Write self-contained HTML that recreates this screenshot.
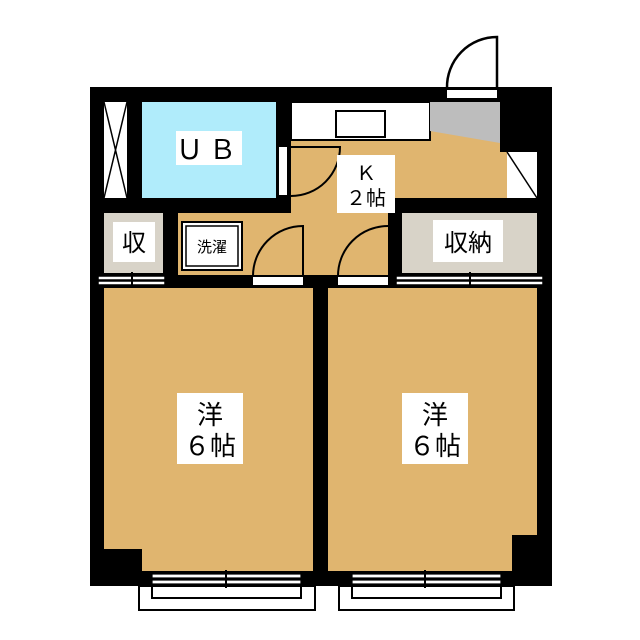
<!DOCTYPE html>
<html><head><meta charset="utf-8"><style>html,body{margin:0;padding:0;background:#fff}svg{display:block}</style></head>
<body>
<svg width="640" height="640" viewBox="0 0 640 640" xmlns="http://www.w3.org/2000/svg" font-family="Liberation Sans, Noto Sans CJK JP, sans-serif">
<rect width="640" height="640" fill="#fff"/>
<path d="M447,88 A50,50 0 0 1 497,37 L497,90" fill="none" stroke="#000" stroke-width="2.5"/>
<rect x="90" y="87" width="462" height="499" fill="#000"/>
<rect x="447" y="90" width="50" height="8" fill="#fff"/>
<rect x="104" y="102" width="23" height="96" fill="#fff"/>
<path d="M104,102 L127,198 M127,102 L104,198" stroke="#000" stroke-width="1.5" fill="none"/>
<rect x="142" y="102" width="134" height="96" fill="#b0ecfb"/>
<rect x="176" y="131" width="66" height="34" fill="#fff"/>
<text x="209" y="159" font-size="27" text-anchor="middle" letter-spacing="6">ＵＢ</text>
<path d="M291,102 L537,102 L537,198 L388,198 L388,275 L178,275 L178,213 L291,213 Z" fill="#e0b56f"/>
<rect x="291" y="102" width="139" height="38" fill="#fff" stroke="#000" stroke-width="2"/>
<rect x="336" y="111" width="49" height="26" fill="#fff" stroke="#000" stroke-width="2"/>
<polygon points="430,102 500,102 500,143 430,131" fill="#bdbdbd"/>
<rect x="500" y="87" width="52" height="65" fill="#000"/>
<rect x="507" y="152" width="30" height="46" fill="#fff"/>
<path d="M507,152 L537,198" stroke="#000" stroke-width="1.5"/>
<rect x="388" y="198" width="164" height="15" fill="#000"/>
<rect x="279" y="147" width="8" height="48" fill="#fff"/>
<path d="M291,147 L340,147 A49,49 0 0 1 291,196" fill="none" stroke="#000" stroke-width="2"/>
<rect x="337" y="155" width="58" height="58" fill="#fff"/>
<text x="366" y="180" font-size="20" text-anchor="middle">Ｋ</text>
<text x="366" y="205" font-size="20" text-anchor="middle">２帖</text>
<rect x="104" y="213" width="59" height="60" fill="#d8d3c8"/>
<rect x="113" y="222" width="42" height="40" fill="#fff"/>
<text x="134" y="251" font-size="24" text-anchor="middle">収</text>
<rect x="182" y="222" width="60" height="48" fill="#fff" stroke="#000" stroke-width="2"/>
<rect x="186" y="226" width="52" height="40" fill="#fff" stroke="#000" stroke-width="1.5"/>
<text x="212" y="252" font-size="15" text-anchor="middle">洗濯</text>
<rect x="253" y="277" width="50" height="8" fill="#fff"/>
<path d="M253,277 A50,50 0 0 1 303,226 L303,277" fill="none" stroke="#000" stroke-width="2"/>
<rect x="338" y="277" width="50" height="8" fill="#fff"/>
<path d="M338,277 A50,50 0 0 1 388,226" fill="none" stroke="#000" stroke-width="2"/>
<rect x="402" y="213" width="135" height="60" fill="#d8d3c8"/>
<rect x="433" y="220" width="70" height="42" fill="#fff"/>
<text x="468" y="251" font-size="24" text-anchor="middle">収納</text>
<g fill="#fff" stroke="#000" stroke-width="1.5">
<rect x="98" y="276" width="67" height="4"/><rect x="98" y="281" width="67" height="4"/>
<rect x="396" y="276" width="147" height="4"/><rect x="396" y="281" width="147" height="4"/>
</g>
<path d="M132,272 V290 M470,272 V290" stroke="#000" stroke-width="2"/>
<path d="M104,288 L313,288 L313,571 L142,571 L142,549 L104,549 Z" fill="#e0b56f"/>
<path d="M328,288 L537,288 L537,535 L512,535 L512,571 L328,571 Z" fill="#e0b56f"/>
<rect x="177" y="393" width="66" height="71" fill="#fff"/>
<text x="210" y="424" font-size="26" text-anchor="middle">洋</text>
<text x="210" y="455" font-size="26" text-anchor="middle">６帖</text>
<rect x="402" y="393" width="66" height="71" fill="#fff"/>
<text x="435" y="424" font-size="26" text-anchor="middle">洋</text>
<text x="435" y="455" font-size="26" text-anchor="middle">６帖</text>
<g fill="#fff" stroke="#000" stroke-width="2">
<rect x="139" y="586" width="176" height="24"/>
<rect x="152" y="586" width="149" height="12"/>
<rect x="339" y="586" width="175" height="24"/>
<rect x="352" y="586" width="149" height="12"/>
</g>
<g fill="#fff" stroke="#000" stroke-width="1.2">
<rect x="152" y="574" width="149" height="4"/><rect x="152" y="580" width="149" height="4"/>
<rect x="352" y="574" width="149" height="4"/><rect x="352" y="580" width="149" height="4"/>
</g>
<path d="M226,570 V588 M425,570 V588" stroke="#000" stroke-width="2"/>
</svg>
</body></html>
